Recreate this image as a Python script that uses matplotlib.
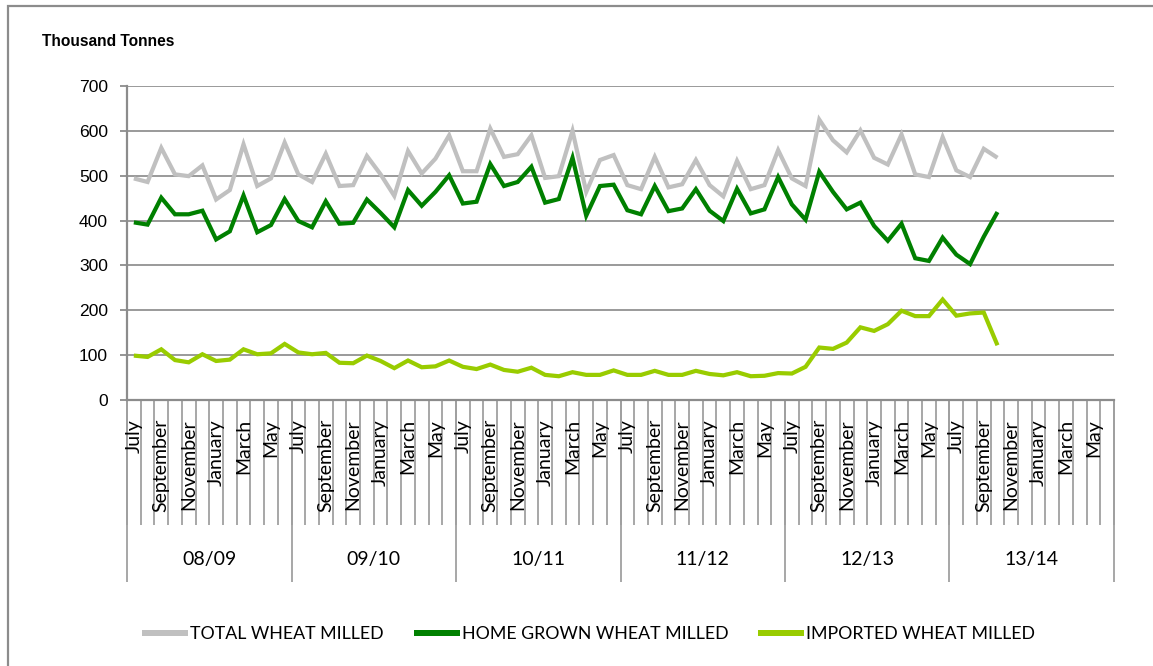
import matplotlib
matplotlib.use("Agg")
import matplotlib.pyplot as plt
from matplotlib.lines import Line2D
from matplotlib.patches import Rectangle

# ---------------- data ----------------
years = ["08/09", "09/10", "10/11", "11/12", "12/13", "13/14"]
months = ["July", "August", "September", "October", "November", "December",
          "January", "February", "March", "April", "May", "June"]

total = [494, 486, 562, 503, 499, 523, 447, 468, 570, 477, 494, 574,
         503, 486, 549, 477, 479, 544, 503, 455, 555, 505, 538, 590,
         510, 510, 605, 542, 548, 590, 495, 499, 600, 464, 535, 546,
         479, 470, 542, 474, 481, 535, 479, 454, 533, 470, 479, 557,
         494, 477, 625, 579, 552, 601, 540, 525, 592, 503, 497, 586,
         512, 497, 560, 540]
home_grown = [396, 391, 451, 414, 414, 422, 358, 376, 456, 374, 390, 448,
              399, 385, 443, 393, 395, 447, 417, 385, 468, 433, 464, 501,
              438, 442, 526, 477, 486, 520, 440, 448, 540, 411, 477, 480,
              423, 414, 477, 421, 427, 470, 422, 399, 471, 416, 425, 497,
              436, 402, 509, 464, 425, 440, 388, 355, 393, 316, 310, 362,
              324, 303, 364, 419]
imported = [99, 96, 113, 89, 84, 102, 87, 90, 113, 102, 104, 125,
            106, 102, 105, 83, 82, 99, 87, 71, 88, 73, 75, 88,
            74, 69, 79, 67, 63, 72, 56, 53, 62, 56, 56, 66,
            56, 56, 65, 56, 56, 65, 58, 55, 62, 53, 54, 60,
            59, 74, 117, 114, 128, 162, 154, 169, 199, 187, 187, 224,
            188, 193, 195, 122]

series_names = ["TOTAL WHEAT MILLED", "HOME GROWN WHEAT MILLED", "IMPORTED WHEAT MILLED"]
y_ticks = [0, 100, 200, 300, 400, 500, 600, 700]

# ---------------- style ----------------
W, H, DPI = 1153, 666, 100
CAT_FONT = ["Lato", "DejaVu Sans"]
AX_FONT = ["Liberation Sans", "DejaVu Sans"]
GRID = "#9a9a9a"
AXC = "#8c8c8c"
colors = ["#c0c0c0", "#008000", "#99cc00"]

def px2pt(p):
    return p * 72.0 / DPI

fig = plt.figure(figsize=(W / DPI, H / DPI), dpi=DPI)
fig.patch.set_facecolor("white")

# outer chart border
fig.add_artist(Rectangle((8 / W, -0.1), 1.2, (666 - 6) / H + 0.1, transform=fig.transFigure,
                         fill=False, edgecolor="#8c8c8c", linewidth=1.6))

left, right, top, bottom = 127, 1114, 86, 400
ax = fig.add_axes([left / W, 1 - bottom / H, (right - left) / W, (bottom - top) / H])

n_cats = len(years) * len(months)
ax.set_xlim(-0.5, n_cats - 0.5)
ax.set_ylim(0, 700)

xs = list(range(len(total)))
for vals, c, name in zip([total, home_grown, imported], colors, series_names):
    ax.plot(xs[:len(vals)], vals, color=c, linewidth=px2pt(4.2), solid_joinstyle="miter",
            solid_capstyle="butt", label=name, zorder=3)

# y axis
ax.set_yticks(y_ticks)
ax.set_yticklabels([str(v) for v in y_ticks], fontfamily=AX_FONT, fontsize=px2pt(17.5))
ax.yaxis.grid(True, color=GRID, linewidth=1.4)
ax.set_axisbelow(True)
ax.tick_params(axis="y", length=px2pt(7), width=1.3, color=AXC, pad=px2pt(12), labelcolor="black")

for s in ["top", "right"]:
    ax.spines[s].set_visible(False)
ax.spines["left"].set_color(AXC)
ax.spines["left"].set_linewidth(1.6)
ax.spines["bottom"].set_color(AXC)
ax.spines["bottom"].set_linewidth(1.6)

# category axis: month boundaries (major), year boundaries (minor)
ax.xaxis.remove_overlapping_locs = False
bounds = [i - 0.5 for i in range(n_cats + 1)]
ax.set_xticks(bounds)
ax.set_xticklabels([])
ax.tick_params(axis="x", which="major", length=px2pt(125), width=1.3, color="#a0a0a0", direction="out")
ybounds = [k * len(months) - 0.5 for k in range(len(years) + 1)]
ax.set_xticks(ybounds, minor=True)
ax.tick_params(axis="x", which="minor", length=px2pt(182), width=1.3, color="#a0a0a0", direction="out")

# month labels (every other month)
for k in range(len(years)):
    for m in range(0, len(months), 2):
        ax.annotate(months[m], xy=(k * len(months) + m, 0), xycoords=("data", "axes fraction"),
                    xytext=(0, -px2pt(19)), textcoords="offset points", rotation=90,
                    ha="center", va="top", fontfamily=CAT_FONT, fontsize=px2pt(19.5),
                    color="black", annotation_clip=False)
    ax.annotate(years[k], xy=(k * len(months) + (len(months) - 1) / 2, 0),
                xycoords=("data", "axes fraction"), xytext=(0, -px2pt(159)),
                textcoords="offset points", ha="center", va="center",
                fontfamily=CAT_FONT, fontsize=px2pt(19.5), color="black", annotation_clip=False)

# axis title
fig.text(42 / W, 1 - 42 / H, "Thousand Tonnes", fontfamily=AX_FONT, fontweight="bold",
         fontsize=px2pt(15.5), ha="left", va="center")

# legend
fs = 17.8
handles = [Line2D([0], [0], color=c, linewidth=px2pt(6)) for c in colors]
fig.legend(handles, series_names, loc="center", bbox_to_anchor=(590 / W, 1 - 634 / H),
           ncol=3, frameon=False, prop={"family": CAT_FONT, "size": px2pt(fs)},
           handlelength=40 / fs, handletextpad=5 / fs, columnspacing=33 / fs)

fig.savefig("out.png", dpi=DPI)
